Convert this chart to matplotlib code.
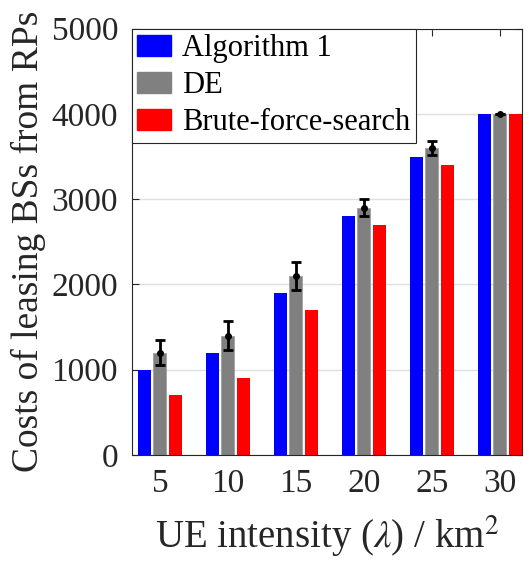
import numpy as np
import matplotlib.pyplot as plt
from matplotlib.patches import Patch

# UE intensity groups and cost values for each method
intensity = [5, 10, 15, 20, 25, 30]
alg1 = [1000, 1200, 1900, 2800, 3500, 4000]
de = [1200, 1400, 2100, 2900, 3600, 4000]
de_err = [150, 175, 160, 100, 80, 0]
brute = [700, 900, 1700, 2700, 3400, 4000]

plt.rcParams['font.family'] = 'Liberation Serif'
plt.rcParams['mathtext.fontset'] = 'stix'
txt = '#262626'

fig = plt.figure(figsize=(5.29, 5.63), dpi=100)
ax = fig.add_axes([0.2495, 0.192, 0.738, 0.757])

x = np.arange(1, len(intensity) + 1)
w = 0.19
off = 0.228
ax.bar(x - off, alg1, w, color='#0000ff', zorder=2)
ax.bar(x, de, w, color='#808080', edgecolor='#a0a0a0', linewidth=0.6, zorder=2)
ax.bar(x + off, brute, w, color='#ff0000', zorder=2)
ax.errorbar(x, de, yerr=de_err, fmt='.', color='black', ecolor='black',
            elinewidth=2, capsize=3.5, capthick=2, markersize=8, zorder=3)

ax.set_xlim(0.59, 6.33)
ax.set_ylim(0, 5000)
ax.set_xticks(x)
ax.set_xticklabels([str(v) for v in intensity])
ax.set_yticks(range(0, 5001, 1000))
ax.yaxis.grid(True, color='#e0e0e0', linewidth=1, zorder=0)
ax.set_axisbelow(True)

ax.tick_params(direction='in', length=5, width=0.8, top=True, right=True,
               labelsize=24, colors=txt, pad=10)
for s in ax.spines.values():
    s.set_color(txt)
    s.set_linewidth(0.8)

ax.set_xlabel(r'UE intensity ($\lambda$) / km$^2$', fontsize=28, color=txt, labelpad=10)
ax.set_ylabel('Costs of leasing BSs from RPs', fontsize=27, color=txt, labelpad=4)

handles = [Patch(color='#0000ff'), Patch(color='#808080'), Patch(color='#ff0000')]
leg = ax.legend(handles, ['Algorithm 1', 'DE', 'Brute-force-search'], loc='upper left',
                fontsize=22, borderaxespad=0, fancybox=False, framealpha=1,
                handlelength=1.1, handleheight=0.68, handletextpad=0.35,
                borderpad=0.18, labelspacing=0.26)
leg.get_frame().set_edgecolor(txt)
leg.get_frame().set_linewidth(0.8)

fig.savefig('out.png', dpi=100)
